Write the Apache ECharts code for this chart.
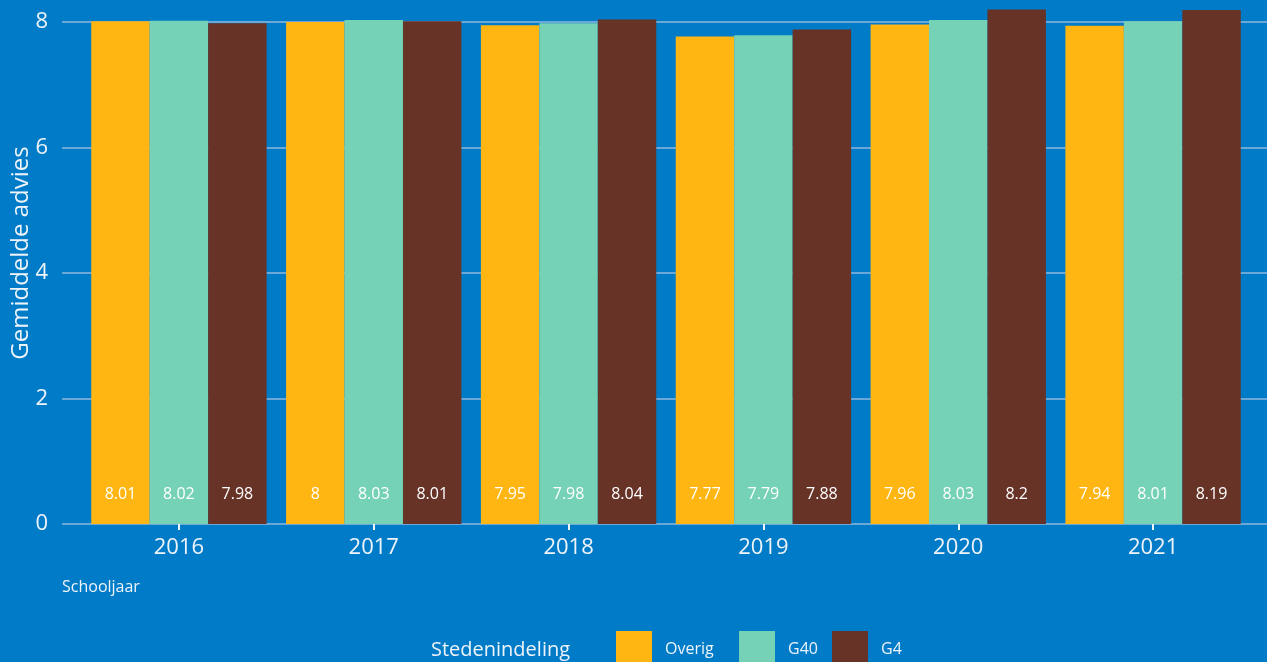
<!DOCTYPE html>
<html>
<head>
<meta charset="utf-8">
<script src="https://cdn.jsdelivr.net/npm/echarts@6/dist/echarts.min.js"></script>
<style>
html,body{margin:0;padding:0;background:#007BC7;}
#chart{width:1267px;height:662px;}
</style>
</head>
<body>
<div id="chart"></div>
<script>
const years = ['2016','2017','2018','2019','2020','2021'];
const overig = [8.01, 8, 7.95, 7.77, 7.96, 7.94];
const g40 = [8.02, 8.03, 7.98, 7.79, 8.03, 8.01];
const g4 = [7.98, 8.01, 8.04, 7.88, 8.2, 8.19];
const yTicks = [0, 2, 4, 6, 8];
const seriesNames = ['Overig', 'G40', 'G4'];
const colors = ['#FFB612', '#76D2B6', '#673327'];

const FONT = '"Open Sans", sans-serif';
const TXT = '#eef4fa';
const YMAX = 524 / 62.75;

const chart = echarts.init(document.getElementById('chart'));

function barSeries(name, data, color) {
  return {
    name: name, type: 'bar', data: data,
    xAxisIndex: 1, yAxisIndex: 1,
    barGap: '0%', barCategoryGap: '10%',
    itemStyle: { color: color },
    label: {
      show: true, position: 'insideBottom', distance: 22,
      color: '#ffffff', fontFamily: FONT, fontSize: 16
    }
  };
}

function legendAt(i, left) {
  return {
    data: [seriesNames[i]], left: left, top: 631, padding: 0,
    itemWidth: 36, itemHeight: 36, icon: 'rect',
    textStyle: { color: TXT, fontFamily: FONT, fontSize: 16, padding: [0, 0, 2, 8] }
  };
}

chart.setOption({
  backgroundColor: '#007BC7',
  animation: false,
  grid: [
    { left: 62, right: 0, top: 0, height: 524 },
    { left: 81.5, width: 1169, top: 0, height: 524 }
  ],
  xAxis: [
    { type: 'value', gridIndex: 0, show: false, min: 0, max: 1 },
    {
      type: 'category', gridIndex: 1, data: years,
      axisLine: { show: false },
      axisTick: { show: true, alignWithLabel: true, length: 6, lineStyle: { color: TXT, width: 2 } },
      axisLabel: { color: TXT, fontFamily: FONT, fontSize: 22, margin: 13 }
    }
  ],
  yAxis: [
    {
      type: 'value', gridIndex: 0, min: 0, max: YMAX, interval: 2,
      axisLine: { show: false }, axisTick: { show: false },
      axisLabel: {
        color: TXT, fontFamily: FONT, fontSize: 22, margin: 14,
        showMaxLabel: false,
        formatter: v => (yTicks.indexOf(v) >= 0 ? String(v) : '')
      },
      splitLine: { show: true, showMaxLine: false, lineStyle: { color: '#8fb6dc', width: 1.5 } }
    },
    {
      type: 'value', gridIndex: 1, min: 0, max: YMAX, interval: 2, show: false,
      splitLine: { show: false }
    }
  ],
  legend: [legendAt(0, 616), legendAt(1, 739), legendAt(2, 832)],
  graphic: [
    {
      type: 'text', x: 21, y: 253, rotation: Math.PI / 2,
      style: { text: 'Gemiddelde advies', fill: TXT, font: '24px ' + FONT, textAlign: 'center', textVerticalAlign: 'middle' }
    },
    {
      type: 'text', x: 62, y: 587,
      style: { text: 'Schooljaar', fill: TXT, font: '16px ' + FONT, textAlign: 'left', textVerticalAlign: 'middle' }
    },
    {
      type: 'text', x: 431, y: 650,
      style: { text: 'Stedenindeling', fill: TXT, font: '20px ' + FONT, textAlign: 'left', textVerticalAlign: 'middle' }
    }
  ],
  series: [
    barSeries(seriesNames[0], overig, colors[0]),
    barSeries(seriesNames[1], g40, colors[1]),
    barSeries(seriesNames[2], g4, colors[2])
  ]
});
</script>
</body>
</html>
